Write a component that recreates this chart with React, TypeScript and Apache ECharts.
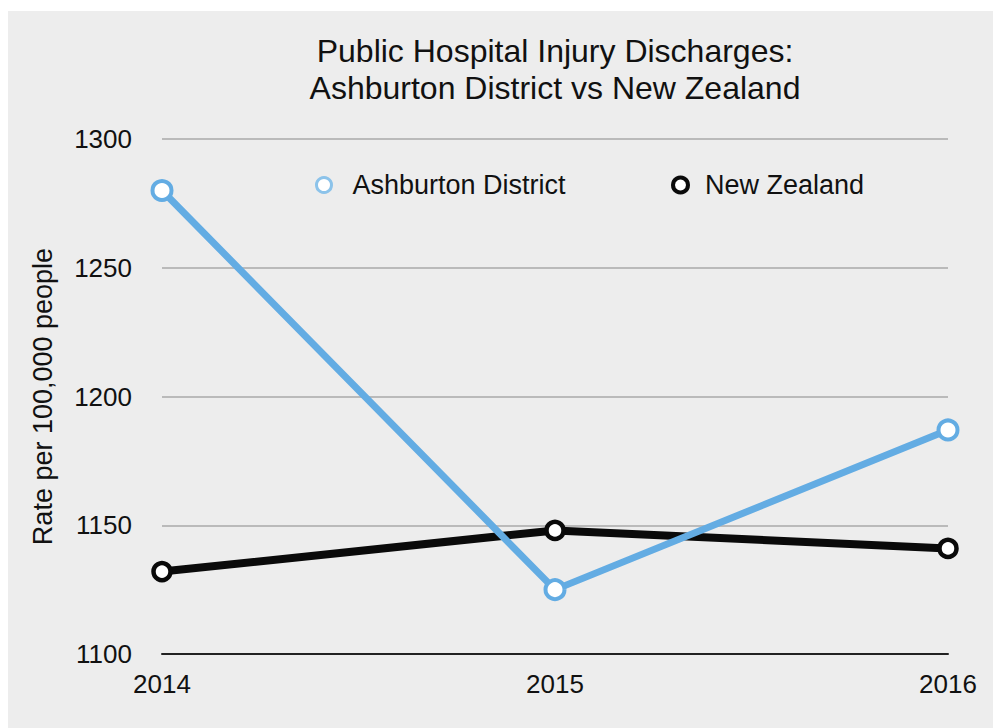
import React, { useEffect, useRef } from "react";
import * as echarts from "echarts";

const years = ["2014", "2015", "2016"];
const ashburton = [1280, 1125, 1187];
const newZealand = [1132, 1148, 1141];
const yTicks = { min: 1100, max: 1300, interval: 50 };
const titleLines = ["Public Hospital Injury Discharges:", "Ashburton District vs New Zealand"];
const seriesNames = ["Ashburton District", "New Zealand"];
const yAxisName = "Rate per 100,000 people";

const FONT = "'Liberation Sans', Arial, Helvetica, sans-serif";
const BLUE = "#63ace3";
const BLACK = "#0a0a0a";

export default function App() {
  const ref = useRef<HTMLDivElement>(null);
  useEffect(() => {
    if (!ref.current) return;
    const chart = echarts.init(ref.current, null, { renderer: "svg" });
    chart.setOption({
      animation: false,
      backgroundColor: "#ffffff",
      textStyle: { fontFamily: FONT },
      graphic: [
        {
          type: "rect",
          z: -10,
          shape: { x: 8, y: 11, width: 985, height: 717 },
          style: { fill: "#ededed" },
          silent: true,
        },
        {
          type: "text",
          z: 10,
          x: 555,
          y: 32,
          style: {
            text: titleLines.join("\n"),
            fontSize: 32,
            lineHeight: 37,
            fontFamily: FONT,
            fill: "#111",
            align: "center",
            verticalAlign: "top",
          },
        },
      ],
      legend: [
        {
          data: [seriesNames[0]],
          left: 315,
          top: 171,
          padding: 0,
          icon: "circle",
          itemWidth: 15,
          itemHeight: 15,
          itemStyle: { color: "#ffffff", borderColor: "#8cc3ea", borderWidth: 3 },
          textStyle: { fontSize: 27, lineHeight: 28, color: "#111", fontFamily: FONT, padding: [0, 0, 0, 16] },
        },
        {
          data: [seriesNames[1]],
          left: 671,
          top: 171,
          padding: 0,
          icon: "circle",
          itemWidth: 15,
          itemHeight: 15,
          itemStyle: { color: "#ffffff", borderColor: BLACK, borderWidth: 4 },
          textStyle: { fontSize: 27, lineHeight: 28, color: "#111", fontFamily: FONT, padding: [0, 0, 0, 12] },
        },
      ],
      grid: { left: 162, right: 49, top: 139, bottom: 74, outerBoundsMode: "none" },
      xAxis: {
        type: "category",
        data: years,
        boundaryGap: false,
        axisLine: { lineStyle: { color: "#222", width: 2 } },
        axisTick: { show: false },
        axisLabel: { fontSize: 26, color: "#111", margin: 17, fontFamily: FONT },
        splitLine: { show: false },
      },
      yAxis: {
        type: "value",
        min: yTicks.min,
        max: yTicks.max,
        interval: yTicks.interval,
        axisLine: { show: false },
        axisTick: { show: false },
        axisLabel: {
          fontSize: 26,
          color: "#111",
          margin: 30,
          fontFamily: FONT,
          formatter: (v: number) => String(v),
        },
        splitLine: { lineStyle: { color: "#a9a9a9", width: 1.5 } },
        name: yAxisName,
        nameLocation: "middle",
        nameGap: 106,
        nameRotate: 90,
        nameTextStyle: { fontSize: 27, color: "#111", fontFamily: FONT },
      },
      series: [
        {
          name: seriesNames[1],
          type: "line",
          data: newZealand,
          symbol: "circle",
          symbolSize: 17,
          lineStyle: { color: BLACK, width: 8 },
          itemStyle: { color: "#ffffff", borderColor: BLACK, borderWidth: 4.5 },
          z: 2,
        },
        {
          name: seriesNames[0],
          type: "line",
          data: ashburton,
          symbol: "circle",
          symbolSize: 19,
          lineStyle: { color: BLUE, width: 7 },
          itemStyle: { color: "#ffffff", borderColor: BLUE, borderWidth: 4 },
          z: 3,
        },
      ],
    });
    return () => chart.dispose();
  }, []);
  return (
    <div
      ref={ref}
      style={{ position: "fixed", left: 0, top: 0, width: 997, height: 728 }}
    />
  );
}
